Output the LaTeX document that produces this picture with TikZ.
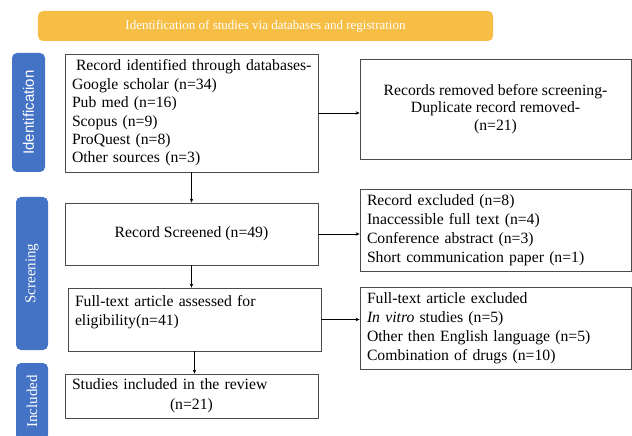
\documentclass[tikz,border=0pt]{standalone}
\usepackage{fontspec}
\setmainfont{Liberation Serif}
\newfontfamily\tabfont{Liberation Sans}
\usetikzlibrary{arrows.meta}
\definecolor{tabblue}{HTML}{4472C4}
\definecolor{bannerorange}{HTML}{F7BE45}
\begin{document}
\begin{tikzpicture}[x = 1bp, y = -1bp,
		box/.style = {draw = black!70, line width = .8bp, inner xsep = 7bp, inner ysep = 0pt, font = \fontsize{15.7bp}{18.4bp}\selectfont},
		tab/.style = {fill = tabblue, rounded corners = 5bp, rotate = 90, text = white, inner sep = 0pt, font = \fontsize{15bp}{18bp}\selectfont},
		flow/.style = {line width = .9bp, -{Stealth[length = 4bp, width = 3.5bp]}}]
			\useasboundingbox (0,0) rectangle (632,436);
			\node [fill = bannerorange, rounded corners = 5bp, minimum width = 455bp, minimum height = 30bp, text = white, font = \fontsize{13bp}{15bp}\selectfont] (banner) at (265.5,26) {Identification of studies via databases and registration};
			\node [tab, minimum width = 119bp, minimum height = 33bp, font = \tabfont\fontsize{15bp}{18bp}\selectfont] (idtab) at (28.5,112.5) {Identification};
			\node [tab, minimum width = 153bp, minimum height = 32bp] (screentab) at (32,273.5) {Screening};
			\node [tab, minimum width = 77bp, minimum height = 32bp] (incltab) at (32,401.5) {Included};
			\node [box, text width = 239bp, align = left, minimum height = 118bp] (ident) at (191.5,113) {\mbox{\hspace*{4bp}Record identified through databases-}\\Google scholar (n=34)\\Pub med (n=16)\\Scopus (n=9)\\ProQuest (n=8)\\Other sources (n=3)};
			\node [box, align = center, minimum width = 271bp, minimum height = 100bp, font = \fontsize{15.7bp}{17.5bp}\selectfont] (removed) at (495.5,109) {Records removed before screening-\\Duplicate record removed-\\(n=21)};
			\node [box, minimum width = 253bp, minimum height = 62bp] (screened) at (191.5,234) {Record Screened (n=49)};
			\node [box, text width = 239bp, align = left, minimum height = 63bp] (fulltext) at (194.5,319.5) {Full-text article assessed for\\eligibility(n=41)\\\mbox{}};
			\node [box, text width = 239bp, align = left, minimum height = 44bp] (included) at (191.5,396) {Studies included in the review\\[1.5bp]\hspace*{98bp}(n=21)};
			\node [box, text width = 257bp, align = left, minimum height = 82bp, font = \fontsize{15.7bp}{19bp}\selectfont] (excluded) at (495.5,230) {Record excluded (n=8)\\Inaccessible full text (n=4)\\Conference abstract (n=3)\\Short communication paper (n=1)};
			\node [box, text width = 257bp, align = left, minimum height = 82bp, font = \fontsize{15.7bp}{19bp}\selectfont] (ftexcluded) at (495.5,328) {Full-text article excluded\\\textit{In vitro} studies (n=5)\\Other then English language (n=5)\\Combination of drugs (n=10)};
			\draw [flow] (ident.east) -- (ident.east -| removed.west);
			\draw [flow] (ident.south) -- (screened.north);
			\draw [flow] (screened.east) -- (screened.east -| excluded.west);
			\draw [flow] (screened.south) -- (screened.south |- fulltext.north);
			\draw [flow] (fulltext.east) -- (fulltext.east -| ftexcluded.west);
			\draw [flow] (fulltext.south) -- (fulltext.south |- included.north);
		\end{tikzpicture}
\end{document}
